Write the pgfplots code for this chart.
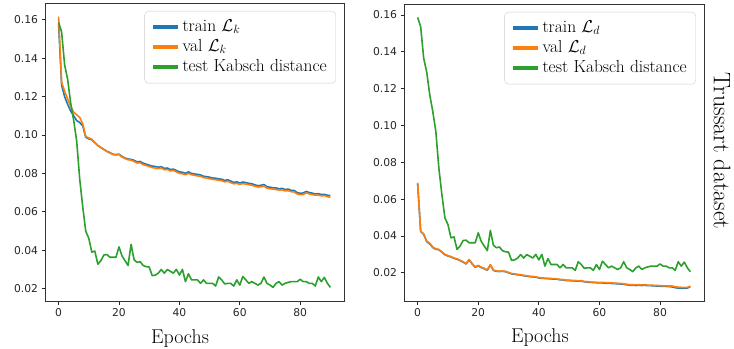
\documentclass[border=0pt]{standalone}
\usepackage{fontspec}
\usepackage{pgfplots}
\usepackage{pgfplotstable}
\pgfplotsset{compat=1.18}
\newfontfamily\tickfont{DejaVu Sans}
\definecolor{mblue}{HTML}{1F77B4}
\definecolor{morange}{HTML}{FF7F0E}
\definecolor{mgreen}{HTML}{2CA02C}

\pgfplotstableread{
e b1 o1 g b2 o2
0 0.1580 0.1617 0.1587 0.0686 0.0688
1 0.1260 0.1275 0.1537 0.0424 0.0426
2 0.1200 0.1228 0.1365 0.0409 0.0411
3 0.1160 0.1188 0.1290 0.0369 0.0372
4 0.1125 0.1150 0.1167 0.0357 0.0360
5 0.1100 0.1118 0.1076 0.0337 0.0340
6 0.1075 0.1105 0.0968 0.0328 0.0330
7 0.1065 0.1092 0.0769 0.0325 0.0327
8 0.1048 0.1058 0.0625 0.0312 0.0314
9 0.0988 0.0992 0.0498 0.0298 0.0300
10 0.0980 0.0985 0.0462 0.0291 0.0293
11 0.0975 0.0978 0.0390 0.0286 0.0288
12 0.0960 0.0961 0.0395 0.0278 0.0280
13 0.0945 0.0946 0.0327 0.0274 0.0276
14 0.0935 0.0935 0.0345 0.0266 0.0268
15 0.0925 0.0924 0.0375 0.0258 0.0260
16 0.0915 0.0914 0.0377 0.0248 0.0250
17 0.0908 0.0906 0.0363 0.0270 0.0272
18 0.0900 0.0898 0.0363 0.0248 0.0250
19 0.0898 0.0896 0.0363 0.0230 0.0232
20 0.0900 0.0898 0.0417 0.0238 0.0240
21 0.0888 0.0885 0.0370 0.0228 0.0230
22 0.0880 0.0877 0.0345 0.0222 0.0224
23 0.0875 0.0871 0.0320 0.0214 0.0216
24 0.0873 0.0869 0.0430 0.0242 0.0244
25 0.0868 0.0862 0.0350 0.0213 0.0215
26 0.0860 0.0854 0.0336 0.0208 0.0210
27 0.0862 0.0855 0.0340 0.0207 0.0209
28 0.0853 0.0846 0.0320 0.0208 0.0210
29 0.0848 0.0841 0.0314 0.0206 0.0208
30 0.0843 0.0836 0.0312 0.0200 0.0202
31 0.0838 0.0830 0.0267 0.0194 0.0196
32 0.0836 0.0828 0.0270 0.0192 0.0194
33 0.0832 0.0825 0.0280 0.0189 0.0191
34 0.0835 0.0828 0.0299 0.0188 0.0190
35 0.0826 0.0819 0.0280 0.0184 0.0186
36 0.0828 0.0820 0.0299 0.0182 0.0184
37 0.0820 0.0813 0.0290 0.0179 0.0181
38 0.0822 0.0815 0.0280 0.0178 0.0180
39 0.0815 0.0808 0.0300 0.0176 0.0178
40 0.0808 0.0800 0.0270 0.0172 0.0174
41 0.0806 0.0798 0.0300 0.0170 0.0172
42 0.0800 0.0793 0.0236 0.0169 0.0171
43 0.0808 0.0800 0.0277 0.0168 0.0170
44 0.0800 0.0793 0.0245 0.0167 0.0169
45 0.0797 0.0790 0.0245 0.0166 0.0168
46 0.0795 0.0787 0.0245 0.0165 0.0167
47 0.0792 0.0785 0.0227 0.0162 0.0164
48 0.0785 0.0778 0.0245 0.0161 0.0163
49 0.0783 0.0776 0.0227 0.0158 0.0160
50 0.0780 0.0772 0.0227 0.0158 0.0160
51 0.0776 0.0769 0.0227 0.0156 0.0158
52 0.0775 0.0767 0.0213 0.0156 0.0158
53 0.0771 0.0764 0.0260 0.0154 0.0156
54 0.0770 0.0762 0.0245 0.0155 0.0157
55 0.0763 0.0756 0.0224 0.0151 0.0153
56 0.0767 0.0759 0.0227 0.0150 0.0152
57 0.0760 0.0752 0.0227 0.0148 0.0150
58 0.0753 0.0746 0.0213 0.0147 0.0149
59 0.0756 0.0748 0.0245 0.0146 0.0148
60 0.0750 0.0743 0.0218 0.0145 0.0148
61 0.0755 0.0747 0.0263 0.0145 0.0148
62 0.0752 0.0744 0.0245 0.0143 0.0146
63 0.0748 0.0741 0.0227 0.0143 0.0146
64 0.0746 0.0738 0.0236 0.0142 0.0145
65 0.0740 0.0733 0.0227 0.0141 0.0144
66 0.0736 0.0729 0.0218 0.0140 0.0143
67 0.0738 0.0730 0.0227 0.0139 0.0142
68 0.0742 0.0734 0.0260 0.0137 0.0140
69 0.0730 0.0723 0.0227 0.0135 0.0138
70 0.0728 0.0720 0.0218 0.0132 0.0135
71 0.0725 0.0718 0.0206 0.0132 0.0135
72 0.0724 0.0716 0.0227 0.0131 0.0134
73 0.0720 0.0713 0.0236 0.0132 0.0135
74 0.0722 0.0714 0.0218 0.0131 0.0134
75 0.0716 0.0709 0.0227 0.0132 0.0135
76 0.0718 0.0710 0.0232 0.0130 0.0133
77 0.0712 0.0705 0.0236 0.0130 0.0133
78 0.0711 0.0703 0.0236 0.0129 0.0132
79 0.0700 0.0693 0.0236 0.0128 0.0131
80 0.0696 0.0689 0.0248 0.0127 0.0130
81 0.0698 0.0690 0.0236 0.0126 0.0129
82 0.0706 0.0699 0.0236 0.0126 0.0129
83 0.0700 0.0693 0.0227 0.0125 0.0128
84 0.0697 0.0690 0.0227 0.0123 0.0128
85 0.0693 0.0686 0.0213 0.0119 0.0124
86 0.0694 0.0687 0.0260 0.0117 0.0122
87 0.0690 0.0683 0.0236 0.0116 0.0121
88 0.0691 0.0684 0.0258 0.0115 0.0120
89 0.0686 0.0679 0.0227 0.0117 0.0121
90 0.0684 0.0675 0.0206 0.0125 0.0127
}\datatable

\pgfplotsset{
  myaxis/.style={
    scale only axis,
    anchor=south west,
    xmin=-4.5, xmax=94.5,
    xtick={0,20,40,60,80},
    ytick={0.02,0.04,0.06,0.08,0.10,0.12,0.14,0.16},
    tick pos=left,
    tick align=outside,
    major tick length=3.5bp,
    every tick/.style={black!85, line width=0.8bp},
    axis line style={black!80, line width=0.8bp},
    /pgf/number format/assume math mode=true,
    yticklabel style={/pgf/number format/.cd, fixed, fixed zerofill, precision=2},
    xticklabel style={/pgf/number format/.cd, fixed, precision=0},
    tick label style={font=\tickfont\fontsize{10.8}{13}\selectfont, text=black!85},
    xlabel style={font=\fontsize{20}{24}\selectfont, anchor=base},
    legend cell align=left,
    legend style={
      at={(1,1)}, anchor=north east, xshift=-8bp, yshift=-8bp,
      draw=black!20, rounded corners=4bp, fill=white, fill opacity=0.8, text opacity=1,
      font=\fontsize{17.5}{20}\selectfont,
      inner xsep=6bp, inner ysep=6bp,
      nodes={text height=11bp, text depth=3bp, inner sep=3bp},
      /tikz/every even column/.append style={column sep=3bp},
    },
    legend image code/.code={\draw[#1, line width=4bp] (0bp,0bp) -- (25bp,0bp);},
  },
  dline/.style={line width=1.6bp, line join=round, mark=none},
}

\begin{document}
\begin{tikzpicture}
\useasboundingbox (0,0) rectangle (734bp,349bp);
\begin{axis}[myaxis,
  at={(45bp,48bp)}, width=299bp, height=298bp,
  ymin=0.0135, ymax=0.1688,
  xlabel={Epochs},
  xlabel style={at={(axis description cs:0.4515,-0.141)}},
]
\addplot[dline, mblue] table[x=e, y=b1] {\datatable};
\addlegendentry{train $\mathcal{L}_k$}
\addplot[dline, morange] table[x=e, y=o1] {\datatable};
\addlegendentry{val $\mathcal{L}_k$}
\addplot[dline, mgreen] table[x=e, y=g] {\datatable};
\addlegendentry{test Kabsch distance}
\end{axis}

\begin{axis}[myaxis,
  at={(404bp,47.5bp)}, width=300bp, height=297.5bp,
  ymin=0.0044, ymax=0.1660,
  xlabel={Epochs},
  xlabel style={at={(axis description cs:0.453,-0.139)}},
]
\addplot[dline, mblue] table[x=e, y=b2] {\datatable};
\addlegendentry{train $\mathcal{L}_d$}
\addplot[dline, morange] table[x=e, y=o2] {\datatable};
\addlegendentry{val $\mathcal{L}_d$}
\addplot[dline, mgreen] table[x=e, y=g] {\datatable};
\addlegendentry{test Kabsch distance}
\end{axis}

\node[rotate=-90, font=\fontsize{24}{28}\selectfont, anchor=center] at (722bp,198bp) {Trussart dataset};
\end{tikzpicture}
\end{document}
